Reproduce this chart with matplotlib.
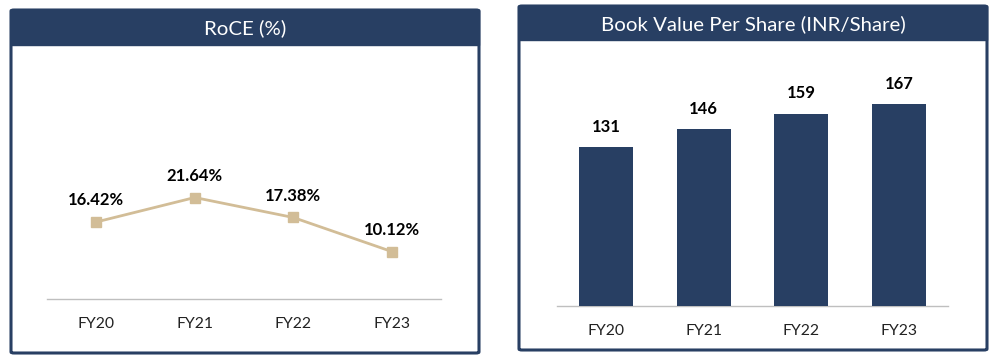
import matplotlib.pyplot as plt
from matplotlib.patches import FancyBboxPatch, Rectangle

plt.rcParams['font.family'] = ['Lato', 'DejaVu Sans']

# data
years = ['FY20', 'FY21', 'FY22', 'FY23']
roce = [16.42, 21.64, 17.38, 10.12]
bvps = [131, 146, 159, 167]

navy = '#283F63'
tan = '#D2BD97'
W, H = 992, 358

fig = plt.figure(figsize=(W / 100, H / 100), dpi=100)


def fx(px):
    return px / W


def fy(py):
    return 1 - py / H


def panel(x0, y0, x1, y1, head, title):
    # outer box with header band
    box = FancyBboxPatch((fx(x0), fy(y1)), fx(x1 - x0), (y1 - y0) / H,
                         boxstyle='round,pad=0,rounding_size=0.003',
                         transform=fig.transFigure, facecolor='white',
                         edgecolor=navy, linewidth=2.2, zorder=0)
    fig.patches.append(box)
    band = Rectangle((fx(x0), fy(head)), fx(x1 - x0), (head - y0) / H,
                     transform=fig.transFigure, facecolor=navy,
                     edgecolor=navy, linewidth=1, zorder=1)
    fig.patches.append(band)
    fig.text(fx((x0 + x1) / 2), fy((y0 + head) / 2 + 1), title, color='white',
             fontsize=14.7, ha='center', va='center')


def make_ax(x0, x1, top, base):
    ax = fig.add_axes([fx(x0), fy(base), fx(x1 - x0), (base - top) / H])
    ax.set_zorder(3)
    ax.set_facecolor('none')
    for s in ['top', 'right', 'left']:
        ax.spines[s].set_visible(False)
    ax.spines['bottom'].set_color('#BFBFBF')
    ax.spines['bottom'].set_linewidth(1)
    ax.set_yticks([])
    ax.tick_params(axis='x', length=0, pad=13, labelsize=11.3, labelcolor='#222222')
    ax.set_xlim(-0.5, 3.5)
    return ax


panel(11, 10, 479, 353, 45, 'RoCE (%)')
panel(519, 6, 987, 350, 40, 'Book Value Per Share (INR/Share)')

# left: RoCE line
ax1 = make_ax(47, 441, 60, 299)
x = range(len(years))
ax1.plot(x, roce, color=tan, linewidth=2, marker='s', markersize=7, zorder=3)
ax1.set_ylim(0, 239 / 4.69)
ax1.set_xticks(list(x))
ax1.set_xticklabels(years)
for i, v in enumerate(roce):
    ax1.annotate(f'{v:.2f}%', (i, v), xytext=(0, 15.5), textcoords='offset points',
                 ha='center', va='center', fontsize=12, fontweight='bold', color='black')

# right: book value bars
ax2 = make_ax(557, 948, 60, 306)
ax2.bar(x, bvps, width=0.55, color=navy, zorder=3)
ax2.set_ylim(0, 246 / 1.21)
ax2.set_xticks(list(x))
ax2.set_xticklabels(years)
for i, v in enumerate(bvps):
    ax2.annotate(f'{v}', (i, v), xytext=(0, 14.5), textcoords='offset points',
                 ha='center', va='center', fontsize=12, fontweight='bold', color='black')

fig.savefig('out.png', dpi=100)
